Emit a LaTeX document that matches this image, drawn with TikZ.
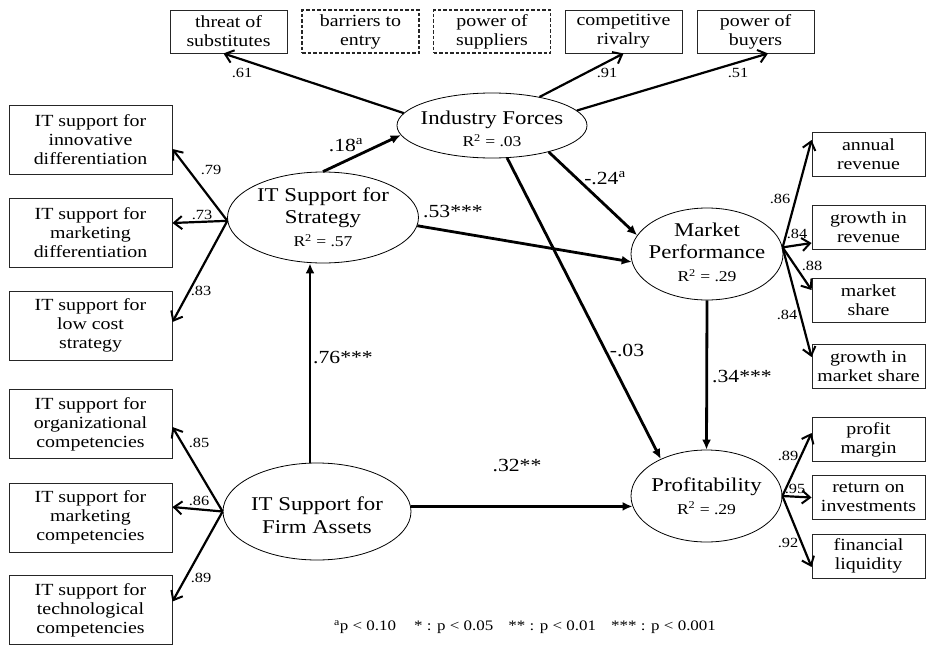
\documentclass[tikz,border=0pt]{standalone}
\usepackage{fontspec}
\setmainfont{Liberation Serif}[FakeStretch=1.17]
\usetikzlibrary{arrows.meta,shapes.geometric,calc}

\newcommand{\boxfont}{\fontsize{17}{19}\selectfont}
\newcommand{\latfont}{\fontsize{19.5}{22.6}\selectfont}
\newcommand{\rsqfont}{\fontsize{15}{18}\selectfont}
\newcommand{\coeffont}{\fontsize{18.5}{20}\selectfont}
\newcommand{\loadfont}{\fontsize{14}{16}\selectfont}
\newcommand{\notefont}{\fontsize{14.5}{16}\selectfont}
\newcommand{\rsq}[1]{{\rsqfont R\textsuperscript{2} = #1}}

\begin{document}
\begin{tikzpicture}[x=1pt,y=-1pt,
  indicator/.style={draw=black!85, line width=0.9pt, inner sep=0pt, align=center, font=\boxfont},
  leftbox/.style={indicator, minimum width=163pt, minimum height=69pt},
  topbox/.style={indicator, minimum width=117pt, minimum height=43pt},
  rightbox/.style={indicator, minimum width=113pt, minimum height=44pt},
  dashbox/.style={topbox, line width=1.3pt, dash pattern=on 3.5pt off 2pt},
  latent/.style={ellipse, draw=black, line width=0.8pt, inner sep=0pt},
  lattext/.style={align=center, font=\latfont, inner sep=0pt},
  loading/.style={line width=2.2pt, -{Straight Barb[length=8pt,width=13pt,line width=2pt]}},
  structural/.style={line width=2.8pt, -{Latex[length=10pt,width=9pt]}},
  coef/.style={font=\coeffont, inner sep=0pt},
  lval/.style={font=\loadfont, inner sep=0pt}
]
\useasboundingbox (0,0) rectangle (926,645);

% Five forces indicators
\node[topbox]  (ts) at (228.5,31.5) {threat of\\substitutes};
\node[dashbox] (be) at (360.5,31.5) {barriers to\\entry};
\node[dashbox] (ps) at (492,31.5)   {power of\\suppliers};
\node[topbox]  (cr) at (623.5,31.5) {competitive\\rivalry};
\node[topbox]  (pb) at (755.5,31.5) {power of\\buyers};

% Left indicators
\node[leftbox] (ind) at (90.5,139.5) {IT support for\\innovative\\differentiation};
\node[leftbox] (mkd) at (90.5,233)   {IT support for\\marketing\\differentiation};
\node[leftbox] (lcs) at (90.5,325.5) {IT support for\\low cost\\strategy};
\node[leftbox] (org) at (90.5,424)   {IT support for\\organizational\\competencies};
\node[leftbox] (mkc) at (90.5,517.5) {IT support for\\marketing\\competencies};
\node[leftbox] (tec) at (90.5,610)   {IT support for\\technological\\competencies};

% Right indicators
\node[rightbox] (ar)  at (868.5,154)   {annual\\revenue};
\node[rightbox] (gr)  at (868.5,227)   {growth in\\revenue};
\node[rightbox] (ms)  at (868.5,300)   {market\\share};
\node[rightbox] (gms) at (868.5,366)   {growth in\\market share};
\node[rightbox] (pm)  at (868.5,439.5) {profit\\margin};
\node[rightbox] (roi) at (868.5,497.5) {return on\\investments};
\node[rightbox] (fl)  at (868.5,556)   {financial\\liquidity};

% Latent constructs
\node[latent, minimum width=190pt, minimum height=65pt] (IF) at (492,125.5) {};
\node[lattext] (IFt) at (492,129) {Industry Forces\\\rsq{.03}};
\node[latent, minimum width=191pt, minimum height=91pt] (ST) at (323,217.5) {};
\node[lattext] (STt) at (323,217) {IT Support for\\Strategy\\\rsq{.57}};
\node[latent, minimum width=152pt, minimum height=92pt] (MP) at (707,254) {};
\node[lattext] (MPt) at (707,252) {Market\\Performance\\\rsq{.29}};
\node[latent, minimum width=151pt, minimum height=92pt] (PR) at (706.5,496) {};
\node[lattext] (PRt) at (706.5,496) {Profitability\\\rsq{.29}};
\node[latent, minimum width=188pt, minimum height=97pt] (FA) at (317,511.5) {};
\node[lattext] (FAt) at (317,515) {IT Support for\\Firm Assets};

% Loadings of industry forces
\draw[loading] (IF.172) -- ([xshift=-5pt]ts.south);
\draw[loading] (IF.31)  -- (cr.south);
\draw[loading] (IF.10)  -- ([xshift=12.5pt]pb.south);

% Loadings of IT support for strategy
\draw[loading] (ST.182) -- ([yshift=-9.5pt]ind.east);
\draw[loading] (ST.182) -- ([yshift=10pt]mkd.east);
\draw[loading] (ST.182) -- ([yshift=3.5pt]lcs.east);

% Loadings of IT support for firm assets
\draw[loading] (FA.west) -- ([yshift=-3pt]org.east);
\draw[loading] (FA.west) -- ([yshift=10.5pt]mkc.east);
\draw[loading] (FA.west) -- ([yshift=8.5pt]tec.east);

% Loadings of market performance
\draw[loading] (MP.5) -- ([yshift=14pt]ar.west);
\draw[loading] (MP.5) -- ([yshift=-16pt]gr.west);
\draw[loading] (MP.5) -- ([yshift=10pt]ms.west);
\draw[loading] (MP.5) -- ([yshift=9pt]gms.west);

% Loadings of profitability
\draw[loading] (PR.east) -- ([yshift=6.5pt]pm.west);
\draw[loading] (PR.east) -- (roi.west);
\draw[loading] (PR.east) -- ([yshift=-11pt]fl.west);

% Structural paths
\draw[structural] (ST.north) -- (IF.186);
\draw[structural] (IF.-25) -- (MP.165);
\draw[structural] (IF.-65) -- (PR.141);
\draw[structural] (ST.-5) -- (MP.186);
\draw[structural] (MP.south) -- (PR.north);
\draw[structural] ([xshift=-7pt]FA.north) -- ([xshift=-13pt]ST.south);
\draw[structural] (FA.3) -- (PR.188);

% Loading values
\node[lval] (l61) at (242,73)  {.61};
\node[lval] (l91) at (607,73)  {.91};
\node[lval] (l51) at (738,73)  {.51};
\node[lval] (l79) at (211,170) {.79};
\node[lval] (l73) at (202,215) {.73};
\node[lval] (l83) at (201,291) {.83};
\node[lval] (l85) at (199,443) {.85};
\node[lval] (l86) at (199,501) {.86};
\node[lval] (l89) at (201,578) {.89};
\node[lval] (r86) at (780,199) {.86};
\node[lval] (r84) at (797,234) {.84};
\node[lval] (r88) at (812,266) {.88};
\node[lval] (r84b) at (787,315) {.84};
\node[lval] (p89) at (788,456) {.89};
\node[lval] (p95) at (795,489) {.95};
\node[lval] (p92) at (788,543) {.92};

% Path coefficients
\node[coef] (c18) at (346,145) {.18\textsuperscript{a}};
\node[coef] (c24) at (605,178) {-.24\textsuperscript{a}};
\node[coef] (c53) at (453,212) {.53***};
\node[coef] (c03) at (627,350) {-.03};
\node[coef] (c34) at (742,377) {.34***};
\node[coef] (c76) at (343,358) {.76***};
\node[coef] (c32) at (517,466) {.32**};

% Significance legend
\node[font=\notefont, inner sep=0pt] (legend) at (525,627)
  {\textsuperscript{a}p < 0.10\hspace{18pt}* : p < 0.05\hspace{15pt}** : p < 0.01\hspace{15pt}*** : p < 0.001};
\end{tikzpicture}
\end{document}
